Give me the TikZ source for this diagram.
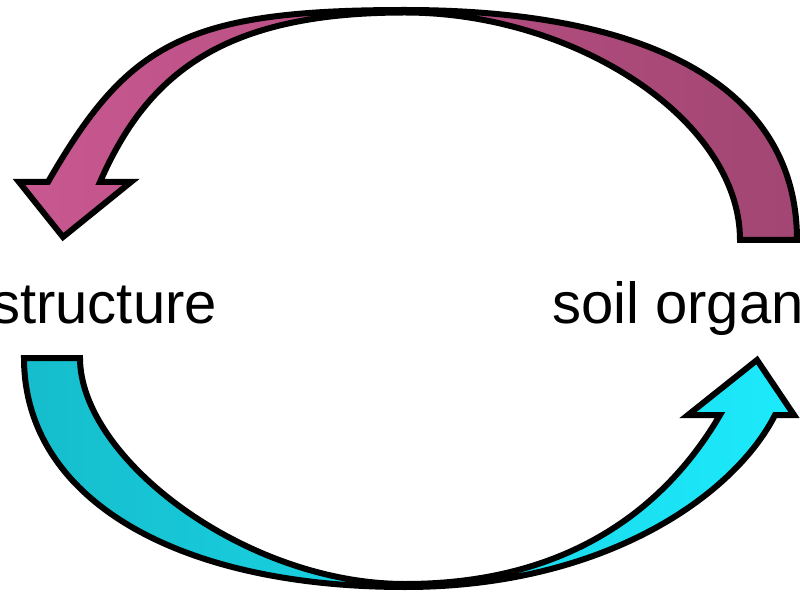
\documentclass[tikz,border=0pt]{standalone}
\usepackage{fontspec}
\setmainfont{Liberation Sans}
\definecolor{pinkL}{HTML}{C85890}
\definecolor{pinkR}{HTML}{A24673}
\definecolor{cyanL}{HTML}{16BDCC}
\definecolor{cyanR}{HTML}{1CEAFC}
\tikzset{
  arrowbody/.style={line width=6pt, line join=miter, miter limit=10, draw=black},
  lbl/.style={anchor=base west, inner sep=0pt, font=\fontsize{58}{64}\selectfont}
}
\begin{document}
\begin{tikzpicture}[x=1pt,y=-1pt]
\useasboundingbox (0,0) rectangle (800,593);
\clip (0,0) rectangle (800,593);
\fill[white] (0,0) rectangle (800,593);
% top arrow (right to left)
\draw[arrowbody, left color=pinkL, right color=pinkR]
  (740,240) .. controls (740,120) and (575,12.5) .. (405,12.5)
  .. controls (225,12.5) and (148,72) .. (100,182)
  -- (131,182) -- (63,237) -- (19,182) -- (48,182)
  .. controls (128,43) and (185,10) .. (405,10)
  .. controls (655,10) and (797,90) .. (797,240) -- cycle;
% bottom arrow (left to right)
\draw[arrowbody, left color=cyanL, right color=cyanR]
  (24,358) -- (80,358)
  .. controls (80,458) and (245,584) .. (405,584)
  .. controls (585,584) and (675,492) .. (720,415)
  -- (688,415) -- (757,360) -- (794,415) -- (775,415)
  .. controls (734.5,495) and (605,587) .. (405,587)
  .. controls (175,587) and (24,498) .. (24,358) -- cycle;
\node[lbl] (structure) at (-9,324) {structure};
\node[lbl] (organ) at (552,324) {soil organ};
\end{tikzpicture}
\end{document}
